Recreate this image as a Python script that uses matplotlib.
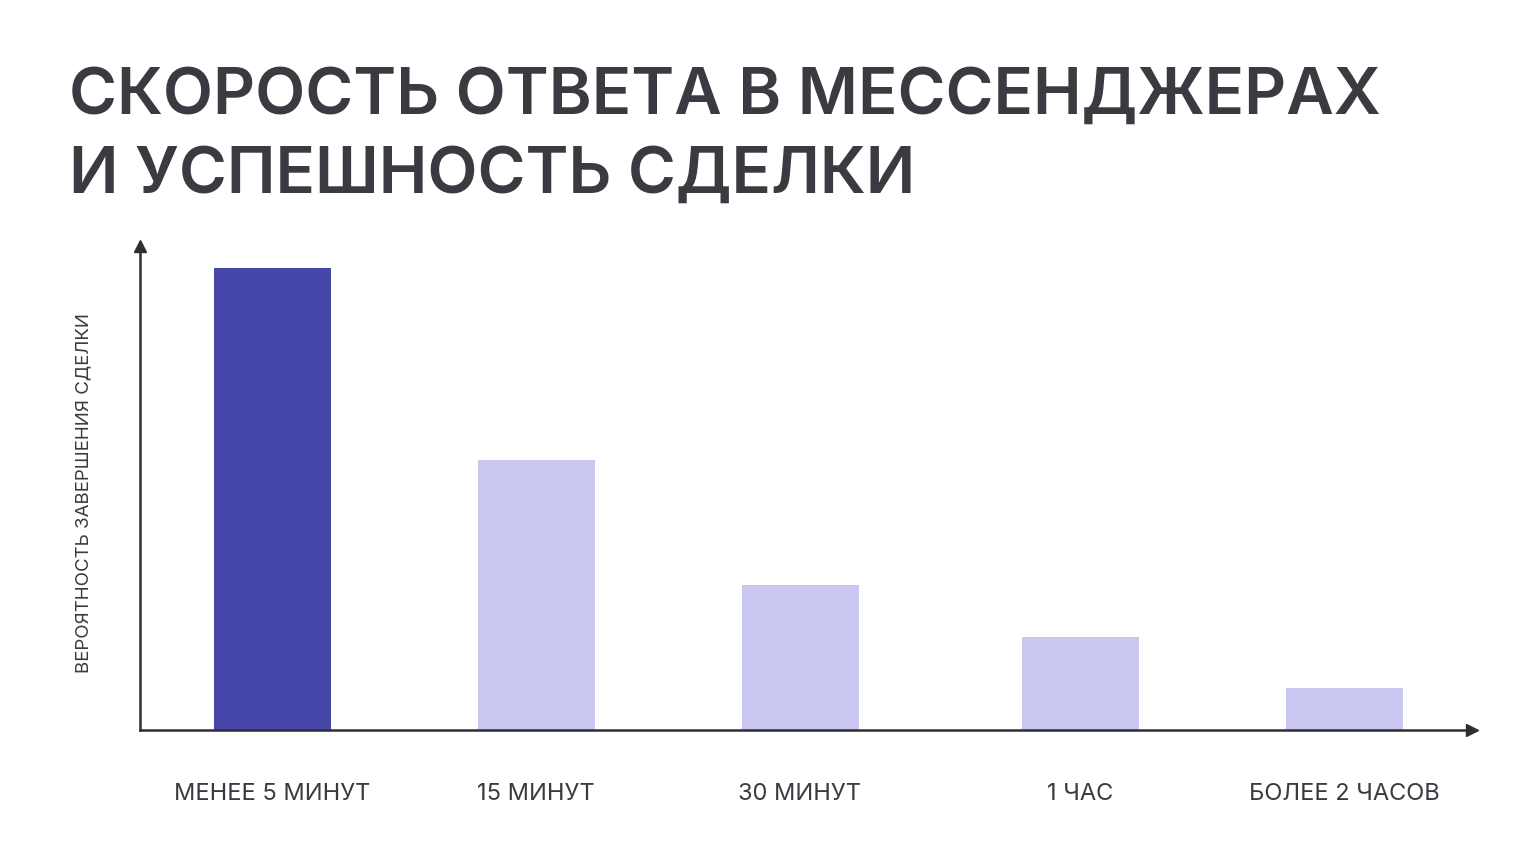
import matplotlib
matplotlib.use("Agg")
import matplotlib.pyplot as plt

categories = ["МЕНЕЕ 5 МИНУТ", "15 МИНУТ", "30 МИНУТ", "1 ЧАС", "БОЛЕЕ 2 ЧАСОВ"]
values = [462, 270, 145, 93, 42]
title_lines = ["СКОРОСТЬ ОТВЕТА В МЕССЕНДЖЕРАХ", "И УСПЕШНОСТЬ СДЕЛКИ"]
y_label = "ВЕРОЯТНОСТЬ ЗАВЕРШЕНИЯ СДЕЛКИ"

# layout (not data)
W, H = 1536, 864
centers = [132, 396, 660, 940, 1204]
bar_w = 117
colors = ["#4747a9", "#c9c7f0", "#c9c7f0", "#c9c7f0", "#c9c7f0"]
text_col = "#3a3a40"
axis_col = "#2e2e33"

fig = plt.figure(figsize=(W / 100, H / 100), dpi=100)
fig.patch.set_facecolor("white")

ax_l, ax_r, ax_t, ax_b = 140, 1472, 246, 730
ax = fig.add_axes([ax_l / W, (H - ax_b) / H, (ax_r - ax_l) / W, (ax_b - ax_t) / H])
ax.bar(centers, values, width=bar_w, color=colors, zorder=1)
ax.set_xlim(0, ax_r - ax_l)
ax.set_ylim(0, ax_b - ax_t)
for s in ["top", "right"]:
    ax.spines[s].set_visible(False)
for s in ["left", "bottom"]:
    ax.spines[s].set_color(axis_col)
    ax.spines[s].set_linewidth(1.8)
    ax.spines[s].set_zorder(3)
ax.set_yticks([])
ax.set_xticks(centers)
ax.set_xticklabels(categories, fontfamily="Inter", fontsize=17, color=text_col)
ax.tick_params(axis="x", length=0, pad=38)
ax.plot(1, 0, marker=">", color=axis_col, markersize=9, transform=ax.transAxes, clip_on=False)
ax.plot(0, 1, marker="^", color=axis_col, markersize=9, transform=ax.transAxes, clip_on=False)

fig.text(84 / W, 1 - 493 / H, y_label, rotation=90, ha="center", va="center",
         fontfamily="Inter", fontsize=13.5, color=text_col)

fig.text(69 / W, 1 - 114 / H, title_lines[0], ha="left", va="baseline",
         fontfamily="Inter", fontweight="semibold", fontsize=47, color=text_col)
fig.text(69 / W, 1 - 193 / H, title_lines[1], ha="left", va="baseline",
         fontfamily="Inter", fontweight="semibold", fontsize=47, color=text_col)

fig.savefig("out.png", dpi=100, facecolor="white")
